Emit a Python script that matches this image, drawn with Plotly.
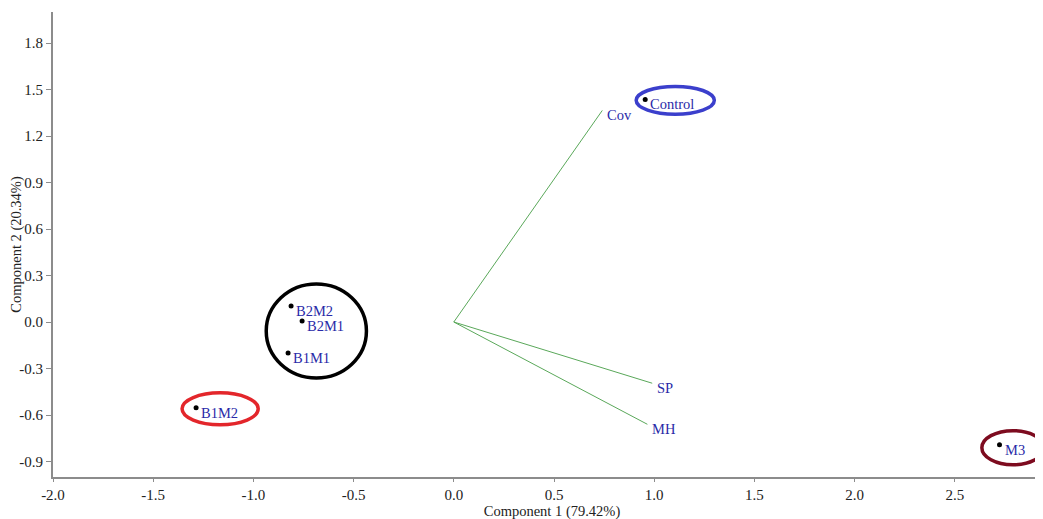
import plotly.graph_objects as go

# Scores (samples)
sample_names = ["Control", "B2M2", "B2M1", "B1M1", "B1M2", "M3"]
sample_pc1 = [0.955, -0.812, -0.757, -0.827, -1.286, 2.723]
sample_pc2 = [1.436, 0.103, 0.006, -0.200, -0.554, -0.792]

# Loadings (variables)
var_names = ["Cov", "SP", "MH"]
var_pc1 = [0.741, 0.990, 0.966]
var_pc2 = [1.365, -0.395, -0.660]

# Group highlight ellipses: centre x, centre y, half-width, half-height, colour
group_cx = [1.105, -0.686, -1.166, 2.790]
group_cy = [1.430, -0.058, -0.560, -0.811]
group_rx = [0.195, 0.250, 0.190, 0.155]
group_ry = [0.090, 0.303, 0.103, 0.110]
group_colors = ["#3b3fcc", "#000000", "#e3262b", "#7d0b1f"]

# Axis ticks
x_ticks = [-2.0, -1.5, -1.0, -0.5, 0.0, 0.5, 1.0, 1.5, 2.0, 2.5]
y_ticks = [-0.9, -0.6, -0.3, 0.0, 0.3, 0.6, 0.9, 1.2, 1.5, 1.8]

FONT = "Liberation Serif, Times New Roman, serif"
LABEL_COLOR = "#2a2aa8"
TEXT_COLOR = "#222222"

fig = go.Figure()

# loading vectors
for name, lx, ly in zip(var_names, var_pc1, var_pc2):
    fig.add_trace(go.Scatter(x=[0, lx], y=[0, ly], mode="lines",
                             line=dict(color="#5aa85a", width=1),
                             hoverinfo="skip", showlegend=False))
    fig.add_annotation(x=lx, y=ly, text=name, showarrow=False,
                       xanchor="left", yanchor="middle", xshift=3, yshift=-5,
                       font=dict(family=FONT, size=14.5, color=LABEL_COLOR))

# sample points
fig.add_trace(go.Scatter(x=sample_pc1, y=sample_pc2, mode="markers",
                         marker=dict(color="black", size=5),
                         text=sample_names, showlegend=False))
for name, sx, sy in zip(sample_names, sample_pc1, sample_pc2):
    fig.add_annotation(x=sx, y=sy, text=name, showarrow=False,
                       xanchor="left", yanchor="middle", xshift=3, yshift=-5,
                       font=dict(family=FONT, size=14.5, color=LABEL_COLOR))

# ellipses
for cx, cy, rx, ry, col in zip(group_cx, group_cy, group_rx, group_ry, group_colors):
    fig.add_shape(type="circle", xref="x", yref="y",
                  x0=cx - rx, x1=cx + rx, y0=cy - ry, y1=cy + ry,
                  line=dict(color=col, width=3.5))

axis_common = dict(showgrid=False, zeroline=False, showline=True,
                   linecolor="#8c8c8c", linewidth=2, ticks="outside",
                   tickcolor="#8c8c8c", tickwidth=1,
                   automargin=False,
                   tickfont=dict(family=FONT, size=15, color=TEXT_COLOR))

fig.update_xaxes(range=[-2.0, 2.98], tickvals=x_ticks,
                 ticktext=[f"{v:.1f}" for v in x_ticks], ticklen=3,
                 title=dict(text="Component 1 (79.42%)", standoff=0,
                            font=dict(family=FONT, size=14.5, color=TEXT_COLOR)),
                 **axis_common)
fig.update_yaxes(range=[-1.0, 2.0], tickvals=y_ticks,
                 ticktext=[f"{v:.1f}" for v in y_ticks], ticklen=5,
                 title=dict(text="Component 2 (20.34%)", standoff=1,
                            font=dict(family=FONT, size=14.5, color=TEXT_COLOR)),
                 **axis_common)

fig.update_layout(width=1043, height=519,
                  margin=dict(l=45, r=0, t=4, b=50),
                  plot_bgcolor="white", paper_bgcolor="white",
                  showlegend=False)

fig.write_html("out.html")
